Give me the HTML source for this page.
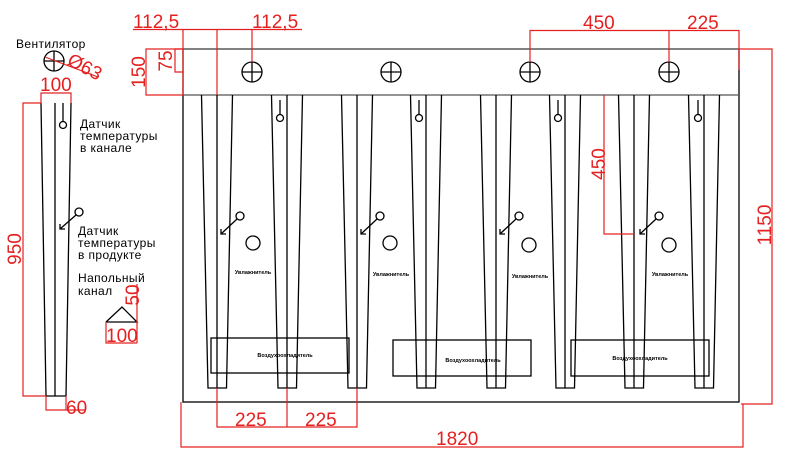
<!DOCTYPE html>
<html><head><meta charset="utf-8"><style>
html,body{margin:0;padding:0;background:#fff;}
svg{display:block;}
text{font-family:"Liberation Sans","DejaVu Sans",sans-serif;}
</style></head><body>
<svg width="785" height="464" viewBox="0 0 785 464" xmlns="http://www.w3.org/2000/svg">
<g fill="none" stroke="#000" stroke-width="1.3">
  <rect x="183" y="49" width="556" height="353"/>
  <line x1="183" y1="49" x2="739" y2="49" stroke="#666"/>
  <line x1="183" y1="95" x2="739" y2="95" stroke="#555"/>
  <g id="ch">
    <polyline points="201.5,95 208,388 226.5,388 232.5,95"/>
    <line x1="217" y1="95" x2="217" y2="388"/>
  </g>
  <use href="#ch" x="70"/>
  <use href="#ch" x="140"/>
  <use href="#ch" x="209"/>
  <use href="#ch" x="279"/>
  <use href="#ch" x="348"/>
  <use href="#ch" x="417"/>
  <use href="#ch" x="487"/>
  <g id="fan"><circle cx="252" cy="72" r="10"/><line x1="242" y1="72" x2="262" y2="72"/><line x1="252" y1="62" x2="252" y2="82"/></g>
  <use href="#fan" x="139"/><use href="#fan" x="278"/><use href="#fan" x="417"/>
  <g id="cs"><line x1="280" y1="100" x2="280" y2="114"/><circle cx="280" cy="118" r="3.5"/></g>
  <use href="#cs" x="139"/><use href="#cs" x="278"/><use href="#cs" x="418"/>
  <g id="ps"><circle cx="240" cy="216" r="4"/><line x1="237" y1="219" x2="221" y2="234"/><polyline points="221,229 221,234 226,234"/></g>
  <use href="#ps" x="140"/><use href="#ps" x="279"/><use href="#ps" x="419"/>
  <circle cx="253" cy="243" r="7"/><circle cx="390" cy="243" r="7"/><circle cx="529" cy="245" r="7"/><circle cx="669" cy="245" r="7"/>
  <rect x="211" y="338" width="138" height="35"/>
  <rect x="393" y="340" width="138" height="36"/>
  <rect x="571" y="340" width="138" height="36"/>
  <polyline points="41,103 46,396 66,396 71,103"/>
  <line x1="55" y1="103" x2="55" y2="396"/>
  <line x1="63" y1="103" x2="63" y2="121"/><circle cx="63" cy="125" r="3.5"/>
  <circle cx="79" cy="212" r="4"/><line x1="76" y1="215" x2="60" y2="229"/><polyline points="60,224 60,229 65,229"/>
  <circle cx="54" cy="61" r="10"/><line x1="44" y1="61" x2="64" y2="61"/><line x1="54" y1="51" x2="54" y2="71"/>
  <polyline points="106,322 122,307 137,322 106,322"/>
</g>
<g font-size="12" fill="#000" style="font-family:'DejaVu Sans',sans-serif" letter-spacing="0.4">
  <text x="16" y="48">Вентилятор</text>
  <text x="80" y="128">Датчик</text>
  <text x="80" y="140">температуры</text>
  <text x="80" y="152">в  канале</text>
  <text x="78" y="235">Датчик</text>
  <text x="78" y="247">температуры</text>
  <text x="78" y="259">в  продукте</text>
  <text x="78" y="282">Напольный</text>
  <text x="78" y="295">канал</text>
</g>
<g font-size="5.5" font-weight="bold" fill="#000" text-anchor="middle">
  <text x="253" y="274">Увлажнитель</text>
  <text x="391" y="276">Увлажнитель</text>
  <text x="530" y="278">Увлажнитель</text>
  <text x="670" y="276">Увлажнитель</text>
  <text x="285" y="357">Воздухоохладитель</text>
  <text x="473" y="362">Воздухоохладитель</text>
  <text x="640" y="360">Воздухоохладитель</text>
</g>
<g fill="none" stroke="#e52020" stroke-width="1.2">
  <line x1="133" y1="29.5" x2="302" y2="29.5"/>
  <line x1="183" y1="29" x2="183" y2="95"/>
  <line x1="217" y1="29" x2="217" y2="95"/>
  <line x1="252" y1="29" x2="252" y2="62"/>
  <polyline points="183,49 146,49 146,95 183,95"/>
  <polyline points="183,49 175,49 175,72 183,72"/>
  <polyline points="530,62 530,30.5 739,30.5 739,70"/>
  <line x1="669" y1="30" x2="669" y2="62"/>
  <polyline points="739,49 772,49 772,404 741,404"/>
  <polyline points="181,402 181,447 743,447 743,404"/>
  <polyline points="217,388 217,427 357,427 357,388"/>
  <line x1="287" y1="388" x2="287" y2="427"/>
  <polyline points="604,95 604,234 634,234"/>
  <line x1="45" y1="57" x2="98" y2="77"/>
  <polyline points="41,103 41,93 71,93 71,103"/>
  <polyline points="41,103 23,103 23,396 46,396"/>
  <polyline points="46,396 46,410 86,410"/>
  <line x1="66" y1="396" x2="66" y2="410"/>
  <line x1="137" y1="284" x2="137" y2="343"/>
  <polyline points="106,322 106,343 137,343"/>
</g>
<g fill="#e52020" font-size="19">
  <text x="133" y="28">112,5</text>
  <text x="252" y="28">112,5</text>
  <text x="583" y="29">450</text>
  <text x="687" y="29">225</text>
  <text x="235" y="426">225</text>
  <text x="305" y="426">225</text>
  <text x="436" y="445">1820</text>
  <text x="106" y="342">100</text>
  <text x="66" y="414">60</text>
  <text x="40" y="91">100</text>
  <text transform="translate(145,72) rotate(-90)" text-anchor="middle">150</text>
  <text transform="translate(172,61) rotate(-90)" text-anchor="middle">75</text>
  <text transform="translate(771,225) rotate(-90)" text-anchor="middle">1150</text>
  <text transform="translate(605,164) rotate(-90)" text-anchor="middle">450</text>
  <text transform="translate(21,249) rotate(-90)" text-anchor="middle">950</text>
  <text transform="translate(139,295) rotate(-90)" text-anchor="middle">50</text>
  <text transform="translate(66,64) rotate(28)">Ø63</text>
</g>
</svg>
</body></html>
